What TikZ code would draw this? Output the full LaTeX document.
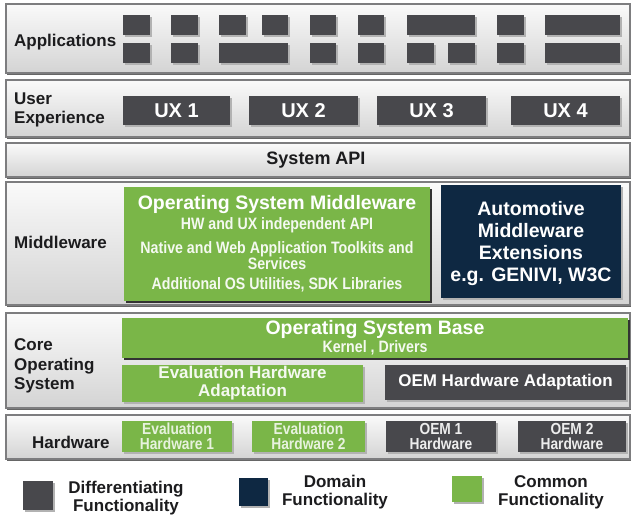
\documentclass[tikz,border=0pt]{standalone}
\usepackage{fontspec}
\setmainfont{Liberation Sans}
\newfontfamily\narrowfont{Liberation Sans}[FakeStretch=0.86]
\usetikzlibrary{shadows}

\definecolor{diffgray}{RGB}{72,72,76}
\definecolor{domainnavy}{RGB}{14,40,66}
\definecolor{commongreen}{RGB}{122,182,72}
\definecolor{labelink}{RGB}{28,28,30}
\definecolor{bandedge}{RGB}{125,125,127}

\tikzset{
  % rectangle given by its top-left and bottom-right corners (y grows downwards)
  corners/.style n args={4}{
    at={({(#1+#3)/2},{(#2+#4)/2})},
    minimum width={(#3-#1)*1pt}, minimum height={(#4-#2)*1pt},
    inner sep=0pt, outer sep=0pt, rectangle},
  band/.style={draw=bandedge, line width=1.2pt, top color=gray!4, bottom color=gray!34,
    drop shadow={shadow xshift=1pt, shadow yshift=-2.2pt, fill=gray!60!black, opacity=0.85}},
  boxshadow/.style={drop shadow={shadow xshift=2pt, shadow yshift=-2pt, fill=gray!60, opacity=1}},
  darkshadow/.style={drop shadow={shadow xshift=1.5pt, shadow yshift=-2pt, fill=black!80, opacity=1}},
  diffbox/.style={fill=diffgray, boxshadow},
  domainbox/.style={fill=domainnavy, boxshadow},
  commonbox/.style={fill=commongreen, boxshadow},
  lbl/.style={font=\bfseries\fontsize{17}{19.5}\selectfont, text=labelink, inner sep=0pt},
  boxtxt/.style={font=\bfseries\fontsize{19.5}{22.3}\selectfont, text=white, inner sep=0pt, align=center},
  midtxt/.style={font=\bfseries\fontsize{17}{18}\selectfont, text=white, inner sep=0pt, align=center},
  smalltxt/.style={font=\narrowfont\bfseries\fontsize{16.5}{16}\selectfont, text=white!92!commongreen, inner sep=0pt, align=center},
  hwtxt/.style={font=\narrowfont\bfseries\fontsize{16}{15.5}\selectfont, inner sep=0pt, align=center},
}

\begin{document}
\begin{tikzpicture}[x=1pt, y=-1pt]
\useasboundingbox (0,0) rectangle (633,519);
\fill[white] (0,0) rectangle (633,519);

% ---- layer bands ----
\node[band, corners={6}{4}{630}{73}]    (apps) {};
\node[band, corners={6}{80}{630}{137}]  (ux) {};
\node[band, corners={6}{143}{630}{177}] (api) {};
\node[band, corners={6}{182}{630}{305}] (mw) {};
\node[band, corners={6}{313}{630}{408}] (core) {};
\node[band, corners={6}{415}{630}{459}] (hw) {};

% ---- applications ----
\node[lbl, anchor=west] (applbl) at (14,42) {Applications};
\node[diffbox, corners={123}{15}{150}{35}] (a1t) {};
\node[diffbox, corners={123}{43}{150}{63}] (a1b) {};
\node[diffbox, corners={171}{15}{198}{35}] (a2t) {};
\node[diffbox, corners={171}{43}{198}{63}] (a2b) {};
\node[diffbox, corners={219}{15}{246}{35}] (a3t) {};
\node[diffbox, corners={262}{15}{288}{35}] (a4t) {};
\node[diffbox, corners={219}{43}{288}{63}] (a34b) {};
\node[diffbox, corners={310}{15}{336}{35}] (a5t) {};
\node[diffbox, corners={310}{43}{336}{63}] (a5b) {};
\node[diffbox, corners={358}{15}{384}{35}] (a6t) {};
\node[diffbox, corners={358}{43}{384}{63}] (a6b) {};
\node[diffbox, corners={407}{15}{475}{35}] (a78t) {};
\node[diffbox, corners={407}{43}{434}{63}] (a7b) {};
\node[diffbox, corners={448}{43}{475}{63}] (a8b) {};
\node[diffbox, corners={497}{15}{524}{35}] (a9t) {};
\node[diffbox, corners={497}{43}{524}{63}] (a9b) {};
\node[diffbox, corners={545}{15}{620}{35}] (a10t) {};
\node[diffbox, corners={545}{43}{620}{63}] (a10b) {};

% ---- user experience ----
\node[lbl, anchor=west, align=left] (uxlbl) at (14,110) {User\\Experience};
\node[diffbox, corners={123}{96}{230}{125}] (ux1) {};
\node[diffbox, corners={249}{96}{358}{125}] (ux2) {};
\node[diffbox, corners={377}{96}{486}{125}] (ux3) {};
\node[diffbox, corners={511}{96}{620}{125}] (ux4) {};
\node[boxtxt, font=\bfseries\fontsize{20}{22}\selectfont] (ux1t) at (ux1) {UX 1};
\node[boxtxt, font=\bfseries\fontsize{20}{22}\selectfont] (ux2t) at (ux2) {UX 2};
\node[boxtxt, font=\bfseries\fontsize{20}{22}\selectfont] (ux3t) at (ux3) {UX 3};
\node[boxtxt, font=\bfseries\fontsize{20}{22}\selectfont] (ux4t) at (ux4) {UX 4};

% ---- system API ----
\node[lbl, font=\bfseries\fontsize{18}{20}\selectfont] (apilbl) at (316,160) {System API};

% ---- middleware ----
\node[lbl, anchor=west] (mwlbl) at (14,242) {Middleware};
\node[commonbox, darkshadow, corners={124}{187}{430}{301}] (osmw) {};
\node[boxtxt] (osmwt) at (277,205) {Operating System Middleware};
\node[smalltxt] (osmw1) at (277,225) {HW and UX independent API};
\node[smalltxt] (osmw2) at (277,255.5) {Native and Web Application Toolkits and\\Services};
\node[smalltxt] (osmw3) at (277,285) {Additional OS Utilities, SDK Libraries};
\node[domainbox, corners={441}{185}{621}{298}] (auto) {};
\node[boxtxt] (autot) at (531,243.5) {Automotive\\Middleware\\Extensions\\e.g. GENIVI, W3C};

% ---- core operating system ----
\node[lbl, anchor=west, align=left] (corelbl) at (14,366) {Core\\Operating\\System};
\node[commonbox, darkshadow, corners={122}{318}{628}{358}] (osbase) {};
\node[boxtxt] (osbaset) at (375,330) {Operating System Base};
\node[smalltxt] (osbase1) at (375,348) {Kernel , Drivers};
\node[commonbox, corners={122}{365}{363}{402}] (evalad) {};
\node[midtxt, text=white!92!commongreen] (evaladt) at (evalad) {Evaluation Hardware\\Adaptation};
\node[diffbox, corners={385}{365}{626}{400}] (oemad) {};
\node[midtxt] (oemadt) at (oemad) {OEM Hardware Adaptation};

% ---- hardware ----
\node[lbl, anchor=west] (hwlbl) at (32,442) {Hardware};
\node[commonbox, corners={122}{421}{232}{452}] (ev1) {};
\node[commonbox, corners={252}{421}{365}{452}] (ev2) {};
\node[diffbox, corners={386}{421}{496}{452}] (oem1) {};
\node[diffbox, corners={518}{421}{626}{452}] (oem2) {};
\node[hwtxt, text=white!82!commongreen] (ev1t) at (ev1) {Evaluation\\Hardware 1};
\node[hwtxt, text=white!82!commongreen] (ev2t) at (ev2) {Evaluation\\Hardware 2};
\node[hwtxt, text=white!90!diffgray] (oem1t) at (oem1) {OEM 1\\Hardware};
\node[hwtxt, text=white!90!diffgray] (oem2t) at (oem2) {OEM 2\\Hardware};

% ---- legend ----
\node[diffbox, corners={23}{481}{53}{510}] (keydiff) {};
\node[lbl, align=center, font=\bfseries\fontsize{17}{18}\selectfont] (keydifft) at (126,498) {Differentiating\\Functionality};
\node[domainbox, corners={239}{478}{268}{506}] (keydom) {};
\node[lbl, align=center, font=\bfseries\fontsize{17}{18}\selectfont] (keydomt) at (335,492) {Domain\\Functionality};
\node[commonbox, corners={452}{476}{482}{502}] (keycom) {};
\node[lbl, align=center, font=\bfseries\fontsize{17}{18}\selectfont] (keycomt) at (551,492) {Common\\Functionality};
\end{tikzpicture}
\end{document}
